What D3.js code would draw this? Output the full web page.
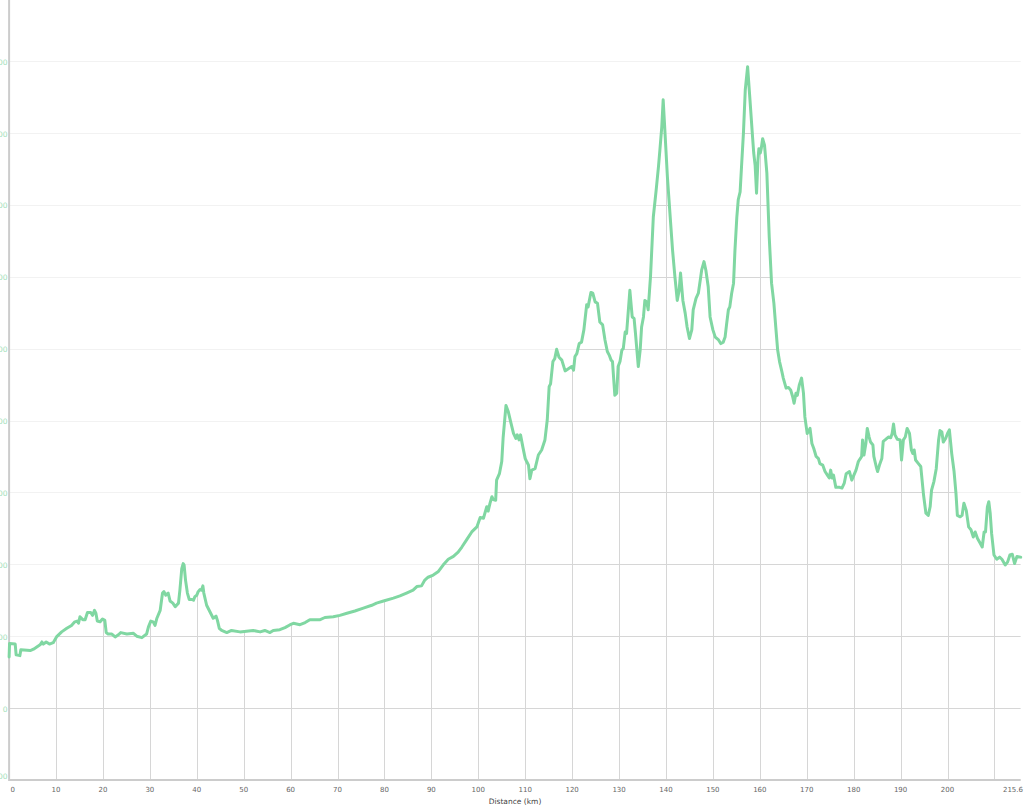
<!DOCTYPE html>
<html><head><meta charset="utf-8">
<script src="https://cdn.jsdelivr.net/npm/d3@7"></script>
<style>body{margin:0;background:#fff} svg{display:block}</style>
</head><body>
<svg id="chart" width="1024" height="809"></svg>
<script>
// Elevation profile: distance (km) and elevation (m)
const distanceKm = [
  0,0.1,1.3,1.5,2.3,2.5,4.5,5.2,5.9,6.6,
  7.0,7.3,7.9,8.6,9.4,10.1,11.2,12.3,13.3,14.0,
  14.5,14.8,15.1,15.7,16.2,16.7,17.4,17.8,18.2,18.5,
  18.8,19.4,19.9,20.4,20.7,21.1,21.9,22.6,23.3,23.8,
  25.1,26.5,27.2,28.3,29.3,29.7,30.2,30.7,31.1,31.5,
  32.2,32.7,33.0,33.4,33.9,34.3,34.9,35.4,36.1,36.4,
  36.8,37.1,37.3,37.6,38.0,38.4,39.0,39.3,39.6,40.0,
  40.3,40.7,41.0,41.3,41.5,42.1,42.8,43.5,44.1,44.4,
  44.8,45.3,46.4,47.4,49.2,50.6,52.0,53.5,54.5,55.6,
  56.3,57.7,58.8,59.9,60.6,62.0,63.1,64.1,66.3,67.3,
  69.1,70.5,72.0,73.7,75.5,77.3,78.3,79.8,81.9,83.3,
  84.7,86.1,86.9,87.9,88.6,89.3,90.4,91.5,92.5,93.6,
  94.7,95.7,96.5,97.5,98.6,99.7,100.4,101.1,101.8,102.1,
  102.5,102.9,103.2,103.7,103.9,104.5,105.0,105.3,105.9,106.4,
  106.9,107.5,108.0,108.3,108.7,109.0,109.5,110.0,110.3,110.7,
  111.0,111.4,112.1,112.8,113.5,114.2,114.7,115.1,115.4,115.9,
  116.3,116.7,117.2,117.8,118.5,119.2,119.9,120.3,120.6,121.0,
  121.5,122.0,122.5,123.1,123.4,124.0,124.4,124.9,125.4,125.9,
  126.5,127.0,127.5,127.9,128.3,128.6,129.1,129.5,129.8,130.2,
  130.6,130.9,131.3,131.6,132.3,132.8,133.2,133.5,134.1,134.5,
  134.8,135.2,135.5,135.9,136.2,136.7,137.3,137.9,138.4,138.7,
  139.1,139.4,139.8,140.3,140.9,141.4,141.9,142.4,142.8,143.1,
  143.6,144.1,144.5,145.0,145.5,145.8,146.4,146.9,147.3,147.6,
  148.1,148.5,149.0,149.4,150.0,150.5,151.2,151.7,152.2,152.6,
  152.9,153.3,153.6,154.0,154.4,154.7,155.1,155.4,155.8,156.1,
  156.5,156.9,157.4,157.9,158.4,158.7,159.0,159.3,159.6,159.8,
  160.1,160.3,160.6,161.0,161.5,162.0,162.5,163.0,163.4,163.8,
  164.2,164.7,165.0,165.6,166.1,166.6,167.0,167.3,167.7,168.0,
  168.4,168.9,169.3,169.6,170.1,170.7,171.1,171.5,172.0,172.5,
  172.8,173.4,173.9,174.4,174.8,175.1,175.4,175.7,176.2,177.0,
  177.5,178.0,178.4,179.1,179.6,180.5,181.0,181.4,181.7,181.9,
  182.2,182.6,182.9,183.3,183.6,184.1,184.3,184.8,185.1,185.5,
  186.0,186.3,186.7,187.4,187.9,188.2,188.5,188.8,189.3,189.9,
  190.2,190.6,191.0,191.4,191.9,192.3,192.6,192.9,193.2,193.8,
  194.3,194.9,195.4,195.9,196.3,196.6,197.1,197.6,198.1,198.4,
  198.8,199.1,199.6,200.0,200.4,200.9,201.4,201.8,202.1,202.7,
  203.1,203.5,204.0,204.5,205.0,205.5,205.9,206.4,207.0,207.4,
  207.8,208.1,208.5,208.8,209.1,209.4,209.9,210.5,211.1,211.6,
  212.3,212.8,213.3,213.8,214.3,214.8,215.6
];
const elevationM = [
  71,90,89,74,73,81,80,82,85,88,
  92,89,92,89,91,99,106,111,115,120,
  121,118,127,123,123,133,133,129,136,132,
  121,120,124,122,105,103,103,99,102,105,
  103,104,100,98,103,113,121,120,115,125,
  136,160,162,157,160,149,146,141,146,164,
  194,201,199,178,160,151,151,150,155,157,
  162,165,164,170,160,143,134,125,128,122,
  111,108,105,108,106,107,108,106,108,105,
  108,109,112,116,118,116,119,123,123,126,
  127,129,132,135,139,143,146,149,153,156,
  160,164,169,170,178,182,185,190,199,207,
  211,217,224,234,245,252,265,264,280,274,
  285,294,290,289,317,326,343,377,421,412,
  398,382,375,380,373,380,363,347,343,338,
  319,331,333,352,359,373,401,447,451,482,
  486,499,488,484,469,472,475,470,489,493,
  507,509,526,561,558,578,577,565,563,537,
  533,512,496,491,484,482,435,438,475,482,
  498,500,523,521,581,544,542,521,475,498,
  530,544,567,565,554,600,683,720,753,776,
  808,846,799,739,683,637,600,567,581,605,
  567,549,530,514,526,554,570,577,595,609,
  621,609,586,544,526,516,512,507,509,516,
  533,554,558,577,591,637,683,707,718,753,
  799,860,892,846,799,772,755,716,762,778,
  772,778,792,783,744,656,591,563,530,498,
  482,468,459,445,446,442,433,424,438,435,
  449,459,438,405,382,389,368,361,350,347,
  340,338,329,324,320,331,320,324,307,307,
  306,313,326,329,317,331,343,347,350,373,
  352,368,389,377,370,366,350,336,329,338,
  347,371,373,377,376,382,395,380,374,373,
  345,373,377,389,382,359,354,359,345,340,
  336,296,271,268,280,303,315,333,373,386,
  384,370,375,382,387,354,329,299,268,266,
  268,285,275,252,248,238,245,236,229,224,
  245,245,280,287,271,243,213,207,210,207,
  199,203,213,214,201,211,210
];
const xTickValues = [0,10,20,30,40,50,60,70,80,90,100,110,120,130,140,150,160,170,180,190,200,210,215.6];
const xTickLabels = ["0","10","20","30","40","50","60","70","80","90","100","110","120","130","140","150","160","170","180","190","200","","215.6"];
const yTickValues = [-100,0,100,200,300,400,500,600,700,800,900];
const xTitle = "Distance (km)";

(function () {
const profile = distanceKm.map((d, i) => ({ km: d, m: elevationM[i] }));

const svg = d3.select("#chart");
const pLeft = 9.1, pRight = 1020.7, pTop = 61, pBottom = 780;

const x = d3.scaleLinear().domain([0, 215.6]).range([pLeft, pRight]);
const y = d3.scaleLinear().domain([-100, 900]).range([pBottom, pTop]);

const lineColor = "#80d7a2";
const font = "'DejaVu Sans', Verdana, sans-serif";

// clip path: area below the profile
const areaGen = d3.area().x(d => x(d.km)).y0(pBottom).y1(d => y(d.m));
svg.append("clipPath").attr("id", "under")
  .append("path").attr("d", areaGen(profile));

// faint horizontal gridlines (above curve)
svg.append("g").selectAll("line").data(yTickValues.filter(v => v > -100)).join("line")
  .attr("x1", pLeft).attr("x2", pRight)
  .attr("y1", d => Math.round(y(d)) + 0.5).attr("y2", d => Math.round(y(d)) + 0.5)
  .attr("stroke", "#f2f2f2").attr("stroke-width", 1);

// darker gridlines under the curve
const gUnder = svg.append("g").attr("clip-path", "url(#under)");
gUnder.selectAll("line.h").data(yTickValues.filter(v => v > -100)).join("line")
  .attr("class", "h")
  .attr("x1", pLeft).attr("x2", pRight)
  .attr("y1", d => Math.round(y(d)) + 0.5).attr("y2", d => Math.round(y(d)) + 0.5)
  .attr("stroke", "#d6d6d6").attr("stroke-width", 1);
gUnder.selectAll("line.v").data(xTickValues.filter(v => v > 0)).join("line")
  .attr("class", "v")
  .attr("x1", d => Math.round(x(d)) + 0.5).attr("x2", d => Math.round(x(d)) + 0.5)
  .attr("y1", pTop - 10).attr("y2", pBottom)
  .attr("stroke", "#d6d6d6").attr("stroke-width", 1);

// axis lines
svg.append("line").attr("x1", pLeft).attr("x2", pLeft).attr("y1", 0).attr("y2", pBottom + 1)
  .attr("stroke", "#cccccc").attr("stroke-width", 2);
svg.append("line").attr("x1", pLeft).attr("x2", pRight).attr("y1", pBottom).attr("y2", pBottom)
  .attr("stroke", "#cccccc").attr("stroke-width", 2);

// profile line
const lineGen = d3.line().x(d => x(d.km)).y(d => y(d.m));
svg.append("path").datum(profile)
  .attr("d", lineGen)
  .attr("fill", "none").attr("stroke", lineColor)
  .attr("stroke-width", 3).attr("stroke-linejoin", "round").attr("stroke-linecap", "round");

// y tick labels (partly hidden at left edge, as in the reference)
svg.append("g").selectAll("text").data(yTickValues).join("text")
  .attr("x", 7.5)
  .attr("y", d => d === -100 ? y(d) - 4 : y(d) + 1)
  .attr("dy", "0.35em")
  .attr("text-anchor", "end")
  .attr("font-family", font).attr("font-size", 7.5)
  .attr("fill", "#9fe0b8")
  .text(d => d);

// x tick labels
svg.append("g").selectAll("text").data(xTickValues).join("text")
  .attr("x", d => d === 0 ? x(d) + 1.5 : (d === 215.6 ? 1023 : x(d)))
  .attr("y", 791.5)
  .attr("text-anchor", d => d === 0 ? "start" : (d === 215.6 ? "end" : "middle"))
  .attr("font-family", font).attr("font-size", 7)
  .attr("fill", "#666")
  .text((d, i) => xTickLabels[i]);

// x axis title
svg.append("text")
  .attr("x", 515).attr("y", 804)
  .attr("text-anchor", "middle")
  .attr("font-family", font).attr("font-size", 7.5)
  .attr("fill", "#444")
  .text(xTitle);
})();
</script>
</body></html>
